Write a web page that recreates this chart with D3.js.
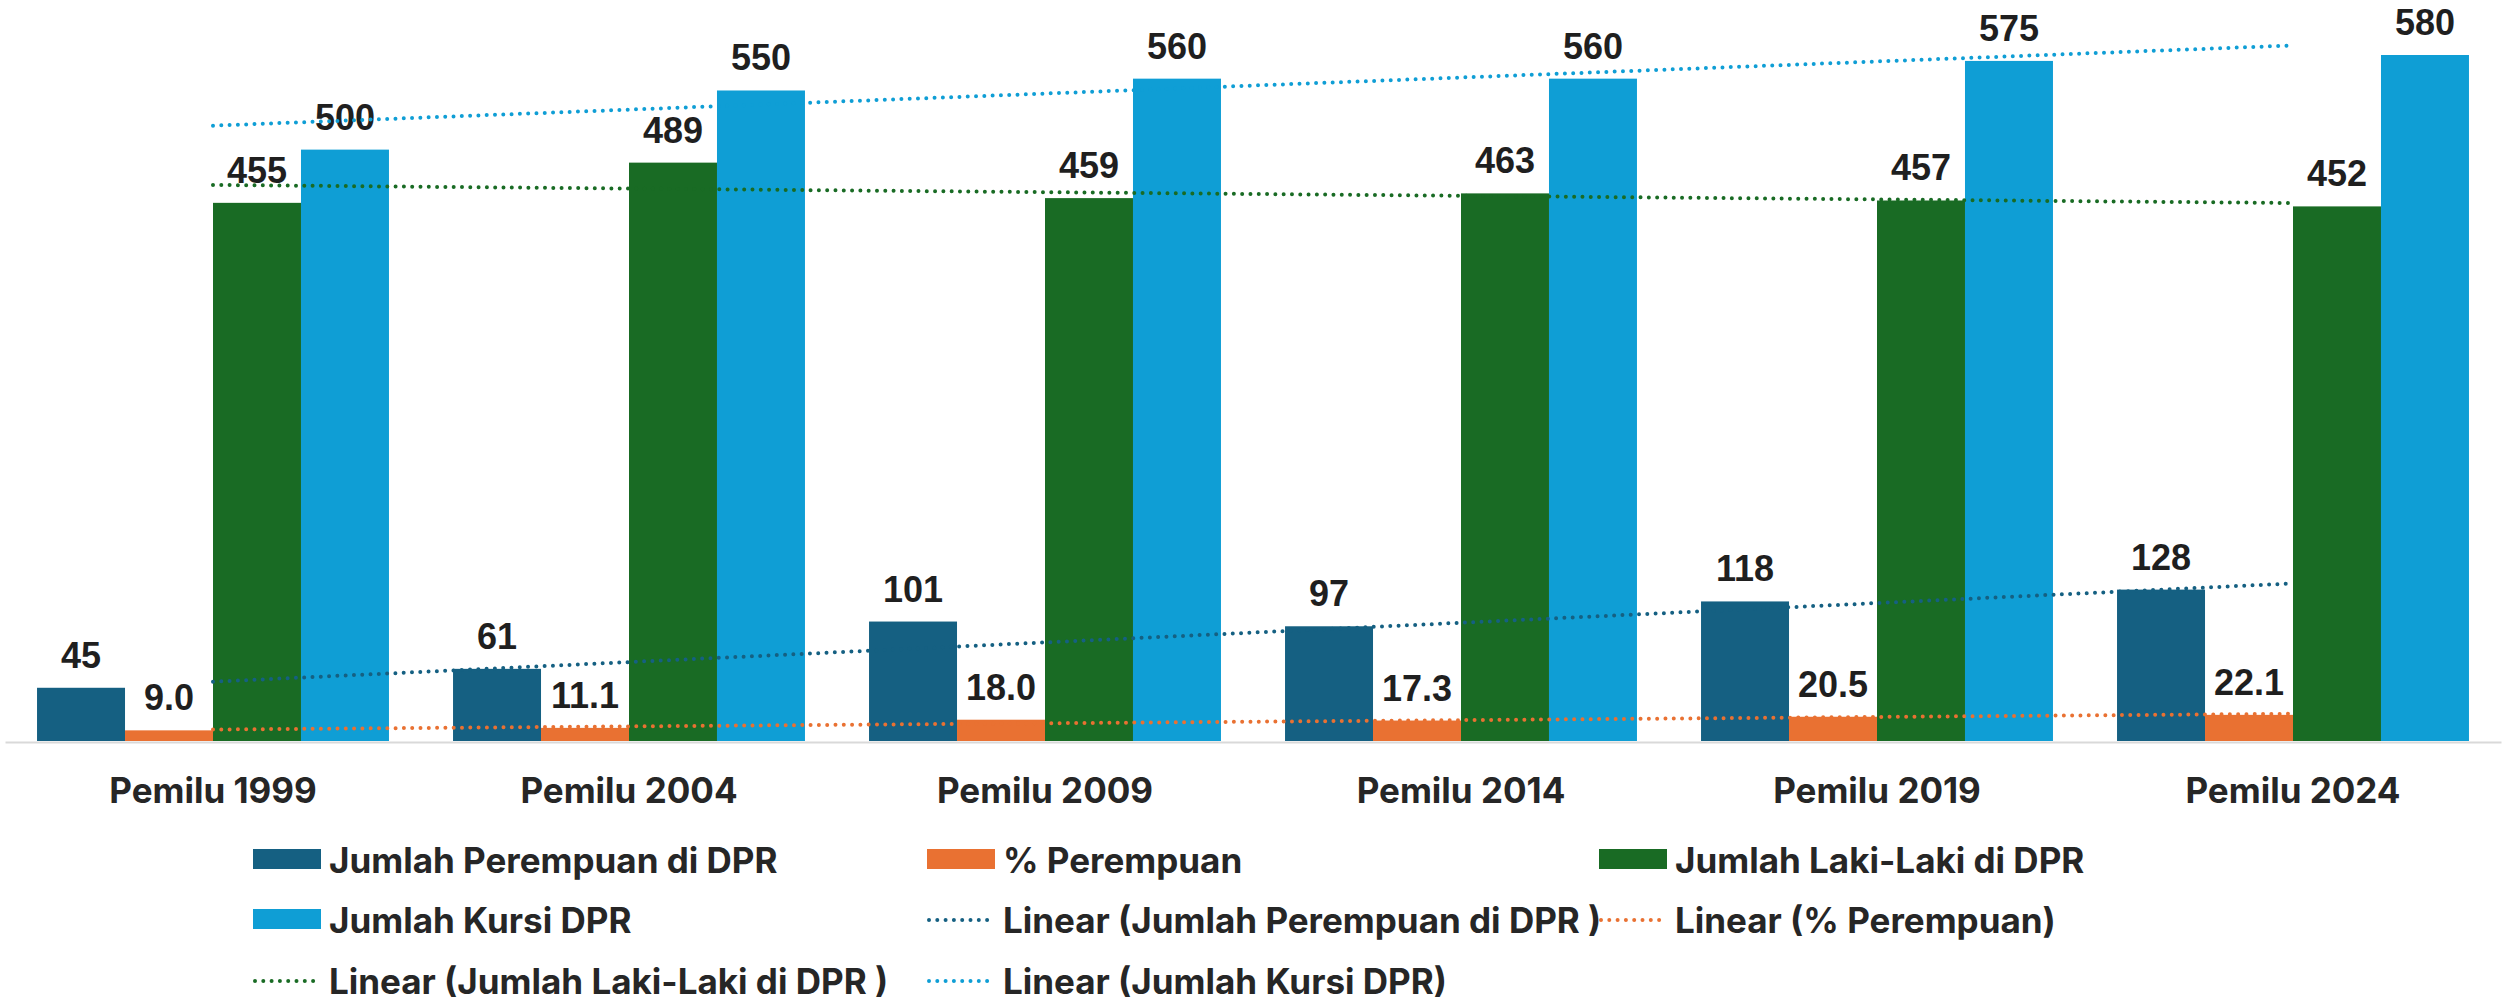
<!DOCTYPE html>
<html>
<head>
<meta charset="utf-8">
<script src="https://cdn.jsdelivr.net/npm/d3@7"></script>
<style>
  body { margin: 0; background: #fff; }
  .chart text { font-family: Inter, 'Open Sans', sans-serif; font-weight: 700; fill: #262626; }
  .chart .value { font-family: 'Liberation Sans', Arial, sans-serif; font-size: 36px; fill: #1f1f1f; }
</style>
</head>
<body>
<svg class="chart" width="2504" height="1001"></svg>
<script>
const categories = ['Pemilu 1999', 'Pemilu 2004', 'Pemilu 2009', 'Pemilu 2014', 'Pemilu 2019', 'Pemilu 2024'];
const perempuan = [45, 61, 101, 97, 118, 128];
const persenPerempuan = [9.0, 11.1, 18.0, 17.3, 20.5, 22.1];
const lakiLaki = [455, 489, 459, 463, 457, 452];
const kursi = [500, 550, 560, 560, 575, 580];

const seriesNames = ['Jumlah Perempuan di DPR', '% Perempuan', 'Jumlah Laki-Laki di DPR', 'Jumlah Kursi DPR'];
const seriesColors = ['#156082', '#E97132', '#196B24', '#0F9ED5'];
const seriesFormat = [d3.format('d'), d3.format('.1f'), d3.format('d'), d3.format('d')];
const trendNames = ['Linear (Jumlah Perempuan di DPR )', 'Linear (% Perempuan)', 'Linear (Jumlah Laki-Laki di DPR )', 'Linear (Jumlah Kursi DPR)'];

const series = [perempuan, persenPerempuan, lakiLaki, kursi];

const chart = d3.select('.chart');

const x0 = d3.scaleBand()
    .domain(categories)
    .range([5, 2501])
    .paddingInner(0.154)
    .paddingOuter(0.077);

const x1 = d3.scaleBand()
    .domain(d3.range(series.length))
    .range([0, x0.bandwidth()]);

const y = d3.scaleLinear()
    .domain([0, 580])
    .range([741, 55]);

// bars
const groups = chart.append('g').selectAll('g')
    .data(categories)
    .enter().append('g')
    .attr('transform', d => `translate(${x0(d)},0)`);

groups.selectAll('rect')
    .data((c, i) => series.map((s, k) => ({ k, v: s[i] })))
    .enter().append('rect')
    .attr('x', d => x1(d.k))
    .attr('y', d => y(d.v))
    .attr('width', x1.bandwidth())
    .attr('height', d => y(0) - y(d.v))
    .attr('fill', d => seriesColors[d.k]);

// axis
const axis = chart.append('g')
    .attr('transform', 'translate(0,742)')
    .call(d3.axisBottom(x0).tickSize(0).tickPadding(36));
axis.select('.domain').attr('stroke', '#d9d9d9').attr('stroke-width', 2);
axis.selectAll('text')
    .style('font-family', "Inter, 'Open Sans', sans-serif")
    .style('font-weight', 700)
    .style('font-size', '35px')
    .attr('fill', '#262626');

// linear trend lines
const fit = vals => {
    const xs = vals.map((v, i) => i);
    const mx = d3.mean(xs), my = d3.mean(vals);
    const slope = d3.sum(xs, (xv, i) => (xv - mx) * (vals[i] - my)) / d3.sum(xs, xv => (xv - mx) ** 2);
    return i => my + slope * (i - mx);
};
const cx = i => x0(categories[i]) + x0.bandwidth() / 2;

series.forEach((s, k) => {
    const f = fit(s);
    const last = s.length - 1;
    chart.append('line')
        .attr('x1', cx(0)).attr('y1', y(f(0)))
        .attr('x2', cx(last)).attr('y2', y(f(last)))
        .attr('stroke', seriesColors[k])
        .attr('stroke-width', 4)
        .attr('stroke-linecap', 'round')
        .attr('stroke-dasharray', '0,8.3');
});

// value labels
groups.selectAll('text.value')
    .data((c, i) => series.map((s, k) => ({ k, v: s[i] })))
    .enter().append('text')
    .attr('class', 'value')
    .attr('x', d => x1(d.k) + x1.bandwidth() / 2)
    .attr('y', d => y(d.v) - 20)
    .attr('text-anchor', 'middle')
    .text(d => seriesFormat[d.k](d.v));

// legend
const legendItems = [
    { label: seriesNames[0], color: seriesColors[0], type: 'bar' },
    { label: seriesNames[1], color: seriesColors[1], type: 'bar' },
    { label: seriesNames[2], color: seriesColors[2], type: 'bar' },
    { label: seriesNames[3], color: seriesColors[3], type: 'bar' },
    { label: trendNames[0], color: seriesColors[0], type: 'line' },
    { label: trendNames[1], color: seriesColors[1], type: 'line' },
    { label: trendNames[2], color: seriesColors[2], type: 'line' },
    { label: trendNames[3], color: seriesColors[3], type: 'line' }
];
const colX = [253, 927, 1599];
const rowY = [849, 909, 970];

const legend = chart.append('g').selectAll('g')
    .data(legendItems)
    .enter().append('g')
    .attr('transform', (d, i) => `translate(${colX[i % 3]},${rowY[Math.floor(i / 3)]})`);

legend.filter(d => d.type === 'bar').append('rect')
    .attr('width', 68).attr('height', 20)
    .attr('fill', d => d.color);

legend.filter(d => d.type === 'line').append('line')
    .attr('x1', 2).attr('x2', 68)
    .attr('y1', 11).attr('y2', 11)
    .attr('stroke', d => d.color)
    .attr('stroke-width', 4)
    .attr('stroke-linecap', 'round')
    .attr('stroke-dasharray', '0,8.3');

legend.append('text')
    .attr('x', 76)
    .attr('y', 24)
    .style('font-size', '35px')
    .text(d => d.label);
</script>
</body>
</html>
